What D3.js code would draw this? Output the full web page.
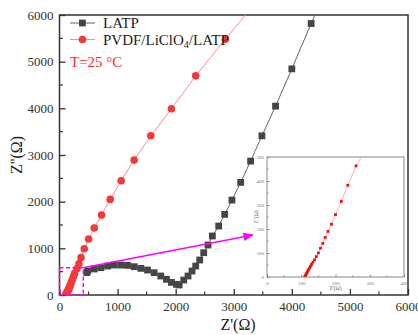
<!DOCTYPE html>
<html><head><meta charset="utf-8">
<script src="https://cdn.jsdelivr.net/npm/d3@7"></script>
<style>html,body{margin:0;padding:0;background:#fff;}svg{display:block;}</style>
</head><body>
<svg id="c" width="418" height="335"></svg>
<script>
// ---- data ----
const latpX = [470, 485, 598, 713, 828, 942, 1057, 1171, 1286, 1400, 1515, 1629, 1744, 1841, 1927, 2013, 2060, 2139, 2213, 2282, 2345, 2414, 2483, 2557, 2632, 2741, 2844, 2969, 3119, 3290, 3485, 3720, 4000, 4333, 4500];
const latpY = [480, 514, 557, 585, 621, 642, 642, 635, 607, 571, 535, 478, 407, 336, 271, 229, 215, 321, 407, 514, 621, 750, 906, 1071, 1264, 1478, 1728, 2034, 2413, 2869, 3411, 4047, 4846, 5818, 6300];
const pvdfX = [110, 112, 113, 115, 117, 119, 121, 124, 127, 130, 134, 139, 144, 150, 156, 163, 170, 178, 188, 200, 217, 236, 260, 300, 335, 370, 426, 501, 598, 725, 873, 1062, 1285, 1572, 1927, 2345, 2856, 3400];
const pvdfY = [0, 3, 8, 13, 18, 24, 30, 37, 45, 53, 62, 72, 85, 100, 120, 140, 165, 190, 220, 260, 315, 382, 463, 560, 670, 800, 991, 1199, 1435, 1713, 2049, 2448, 2891, 3411, 3990, 4696, 5482, 6300];
const xTicks = [0, 1000, 2000, 3000, 4000, 5000, 6000];
const yTicks = [0, 1000, 2000, 3000, 4000, 5000, 6000];
const insetXTicks = [0, 100, 200, 300, 400];
const insetYTicks = [0, 100, 200, 300, 400, 500];
const zoomBox = [410, 585];          // dashed rectangle corner (data)
const arrowEnd = [3330, 1285];       // arrow tip (data)

const latp = latpX.map((x, i) => [x, latpY[i]]);
const pvdf = pvdfX.map((x, i) => [x, pvdfY[i]]);

const svg = d3.select('#c');
const M = {l: 59.5, r: 408, t: 15, b: 295};
const x = d3.scaleLinear().domain([0, 6000]).range([M.l, M.r]);
const y = d3.scaleLinear().domain([0, 6000]).range([M.b, M.t]);
const serif = "'Liberation Serif','Times New Roman',serif";
const RED = '#f23a3a', RLINE = '#ff8a8a', GRAY = '#454545';

svg.append('defs').append('clipPath').attr('id', 'clip')
  .append('rect').attr('x', M.l).attr('y', M.t).attr('width', M.r - M.l).attr('height', M.b - M.t);
const defs = svg.select('defs');
defs.append('marker').attr('id', 'arr').attr('viewBox', '0 0 10 10').attr('refX', 9).attr('refY', 5)
  .attr('markerWidth', 7).attr('markerHeight', 7).attr('orient', 'auto')
  .append('path').attr('d', 'M0,1 L10,5 L0,9 Z').attr('fill', '#ff00ff');

// axes
const minorX = d3.range(500, 6000, 1000);
const ax = svg.append('g').attr('transform', `translate(0,${M.b})`)
  .attr('font-family', serif)
  .call(d3.axisBottom(x).tickValues(xTicks).tickSize(-6).tickPadding(7).tickFormat(d3.format('d')));
ax.attr('font-family', serif).attr('font-size', 13);
ax.select('.domain').remove();
ax.selectAll('text').style('font-family', serif).attr('font-size', 13).attr('fill', '#333');
ax.selectAll('line').attr('stroke', '#333').attr('stroke-width', 1.3);
svg.append('g').selectAll('line').data(minorX).join('line')
  .attr('x1', d => x(d)).attr('x2', d => x(d)).attr('y1', M.b).attr('y2', M.b - 3.5)
  .attr('stroke', '#333').attr('stroke-width', 1.2);

const ay = svg.append('g').attr('transform', `translate(${M.l},0)`)
  .call(d3.axisLeft(y).tickValues(yTicks).tickSize(-6).tickPadding(6).tickFormat(d3.format('d')));
ay.attr('font-family', serif).attr('font-size', 13);
ay.select('.domain').remove();
ay.selectAll('text').style('font-family', serif).attr('font-size', 13).attr('fill', '#333');
ay.selectAll('line').attr('stroke', '#333').attr('stroke-width', 1.3);
svg.append('g').selectAll('line').data(minorX).join('line')
  .attr('y1', d => y(d)).attr('y2', d => y(d)).attr('x1', M.l).attr('x2', M.l + 3.5)
  .attr('stroke', '#333').attr('stroke-width', 1.2);

// frame
svg.append('rect').attr('x', M.l).attr('y', M.t).attr('width', M.r - M.l).attr('height', M.b - M.t)
  .attr('fill', 'none').attr('stroke', '#333').attr('stroke-width', 1.5);

// axis titles
svg.append('text').attr('x', 238).attr('y', 330).attr('text-anchor', 'middle')
  .attr('font-family', serif).attr('font-size', 16).attr('fill', '#222').text("Z'(Ω)");
svg.append('text').attr('transform', `translate(22,${(M.t + M.b) / 2}) rotate(-90)`).attr('text-anchor', 'middle')
  .attr('font-family', serif).attr('font-size', 16).attr('fill', '#222').text("Z''(Ω)");

// data
const plot = svg.append('g').attr('clip-path', 'url(#clip)');
const line = d3.line().x(d => x(d[0])).y(d => y(d[1]));
plot.append('path').datum(latp).attr('d', line).attr('fill', 'none').attr('stroke', '#666').attr('stroke-width', 1);
plot.append('path').datum(pvdf).attr('d', line).attr('fill', 'none').attr('stroke', RLINE).attr('stroke-width', 1);
plot.selectAll('.sq').data(latp).join('rect').attr('class', 'sq')
  .attr('x', d => x(d[0]) - 3.4).attr('y', d => y(d[1]) - 3.4).attr('width', 6.8).attr('height', 6.8).attr('fill', GRAY);
plot.selectAll('.ci').data(pvdf).join('circle').attr('class', 'ci')
  .attr('cx', d => x(d[0])).attr('cy', d => y(d[1])).attr('r', 3.8).attr('fill', RED);

// magenta zoom box and arrow
svg.append('rect').attr('x', x(0)).attr('y', y(zoomBox[1])).attr('width', x(zoomBox[0]) - x(0)).attr('height', y(0) - y(zoomBox[1]))
  .attr('fill', 'none').attr('stroke', '#ff00ff').attr('stroke-width', 1.5).attr('stroke-dasharray', '4,2.5');
svg.append('line').attr('x1', x(zoomBox[0])).attr('y1', y(zoomBox[1])).attr('x2', x(arrowEnd[0])).attr('y2', y(arrowEnd[1]))
  .attr('stroke', '#ff00ff').attr('stroke-width', 1.5).attr('marker-end', 'url(#arr)');

// legend
const lg = svg.append('g');
lg.append('line').attr('x1', 70).attr('x2', 95).attr('y1', 23).attr('y2', 23).attr('stroke', '#666');
lg.append('rect').attr('x', 79).attr('y', 19.6).attr('width', 6.8).attr('height', 6.8).attr('fill', GRAY);
lg.append('text').attr('x', 103).attr('y', 28).attr('font-family', serif).attr('font-size', 15).attr('fill', '#222').text('LATP');
lg.append('line').attr('x1', 70).attr('x2', 95).attr('y1', 39.5).attr('y2', 39.5).attr('stroke', RLINE);
lg.append('circle').attr('cx', 82.5).attr('cy', 39.5).attr('r', 3.8).attr('fill', RED);
const t2 = lg.append('text').attr('x', 103).attr('y', 44.5).attr('font-family', serif).attr('font-size', 15).attr('fill', '#222');
t2.append('tspan').text('PVDF/LiClO');
t2.append('tspan').attr('font-size', 10).attr('dy', 3).text('4');
t2.append('tspan').attr('dy', -3).text('/LATP');
lg.append('text').attr('x', 70).attr('y', 67).attr('font-family', serif).attr('font-size', 15).attr('fill', '#ff2a2a').text('T=25 °C');

// inset
const I = {l: 267, r: 404, t: 157, b: 277};
const ix = d3.scaleLinear().domain([0, 400]).range([I.l, I.r]);
const iy = d3.scaleLinear().domain([0, 500]).range([I.b, I.t]);
svg.append('rect').attr('x', I.l - 12).attr('y', I.t - 6).attr('width', I.r - I.l + 14).attr('height', I.b - I.t + 16).attr('fill', '#fff');
defs.append('clipPath').attr('id', 'iclip').append('rect').attr('x', I.l).attr('y', I.t).attr('width', I.r - I.l).attr('height', I.b - I.t);
const ig = svg.append('g');
const iax = ig.append('g').attr('transform', `translate(0,${I.b})`)
  .call(d3.axisBottom(ix).tickValues(insetXTicks).tickSize(-2.5).tickPadding(4));
iax.select('.domain').remove();
iax.selectAll('text').style('font-family', serif).attr('font-size', 5).attr('fill', '#777');
iax.selectAll('line').attr('stroke', '#888');
const iay = ig.append('g').attr('transform', `translate(${I.l},0)`)
  .call(d3.axisLeft(iy).tickValues(insetYTicks).tickSize(-2.5).tickPadding(3));
iay.select('.domain').remove();
iay.selectAll('text').style('font-family', serif).attr('font-size', 5).attr('fill', '#777');
iay.selectAll('line').attr('stroke', '#888');
ig.selectAll('.imx').data(d3.range(50, 400, 100)).join('line').attr('class', 'imx')
  .attr('x1', d => ix(d)).attr('x2', d => ix(d)).attr('y1', I.b).attr('y2', I.b - 1.5).attr('stroke', '#888');
ig.selectAll('.imy').data(d3.range(50, 500, 100)).join('line').attr('class', 'imy')
  .attr('y1', d => iy(d)).attr('y2', d => iy(d)).attr('x1', I.l).attr('x2', I.l + 1.5).attr('stroke', '#888');
ig.append('rect').attr('x', I.l).attr('y', I.t).attr('width', I.r - I.l).attr('height', I.b - I.t)
  .attr('fill', 'none').attr('stroke', '#888').attr('stroke-width', 1);
const iline = d3.line().x(d => ix(d[0])).y(d => iy(d[1]));
const ip = ig.append('g').attr('clip-path', 'url(#iclip)');
ip.append('path').datum(pvdf).attr('d', iline).attr('fill', 'none').attr('stroke', '#ff9a9a').attr('stroke-width', 0.8);
ip.selectAll('rect.p').data(pvdf.filter(d => d[0] <= 400 && d[1] <= 500)).join('rect').attr('class', 'p')
  .attr('x', d => ix(d[0]) - 1.4).attr('y', d => iy(d[1]) - 1.4).attr('width', 2.8).attr('height', 2.8).attr('fill', '#ee1111');
ig.append('text').attr('x', (I.l + I.r) / 2).attr('y', 290).attr('text-anchor', 'middle')
  .attr('font-family', serif).attr('font-size', 5.5).attr('fill', '#666').text("Z'(Ω)");
ig.append('text').attr('transform', `translate(258,${(I.t + I.b) / 2}) rotate(-90)`).attr('text-anchor', 'middle')
  .attr('font-family', serif).attr('font-size', 5.5).attr('fill', '#666').text("Z''(Ω)");
</script>
</body></html>
